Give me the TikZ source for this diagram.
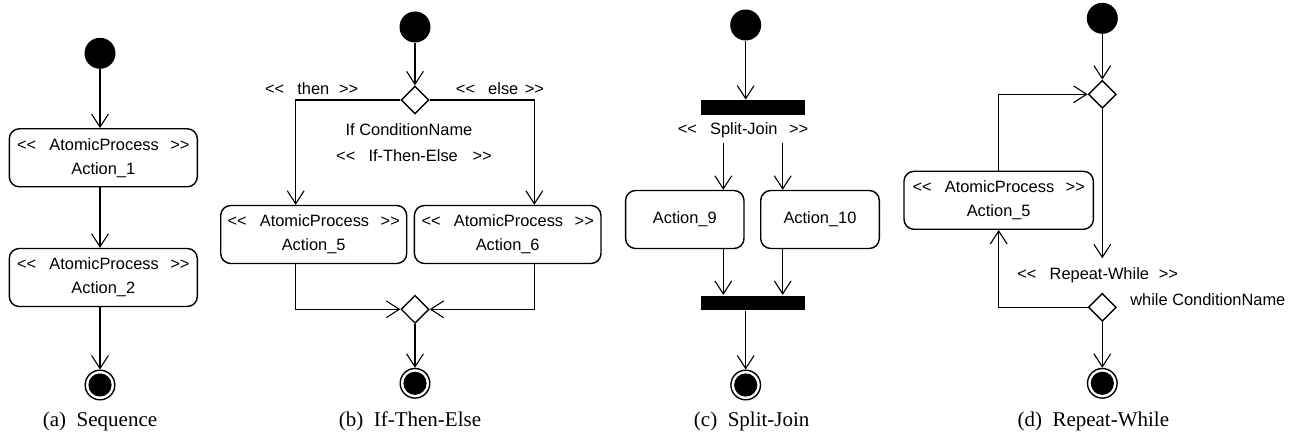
\documentclass[tikz,border=0pt]{standalone}
\usepackage{fontspec}
\setmainfont{Liberation Serif}
\setsansfont{Liberation Sans}
\usetikzlibrary{arrows.meta,shapes.geometric}
\newcommand{\stereo}[2][0.7em]{<\kern0pt<\hspace{0.8em}#2\hspace{#1}>\kern0pt>}

\begin{document}
\begin{tikzpicture}[x=0.5pt,y=-0.5pt,line width=0.7pt,
	>={Straight Barb[length=6.5pt,width=8.4pt,line width=0.55pt]},
	font=\sffamily\fontsize{8.2}{12}\selectfont,
	start/.style = {circle,fill,inner sep=0pt,minimum size=15.5pt},
	final/.style = {circle,draw,inner sep=0pt,minimum size=14.8pt,path picture={\fill (path picture bounding box.center) circle (5.8pt);}},
	action/.style = {draw,rounded corners=5pt,align=center,inner sep=0pt,minimum height=29pt},
	decision/.style = {diamond,draw,fill=white,inner sep=0pt,minimum size=14pt},
	bar/.style = {fill,inner sep=0pt,minimum width=52.2pt,minimum height=7.2pt},
	caption/.style = {font=\rmfamily\fontsize{10.5}{12}\selectfont}
	]
	%\draw [help lines] (0,0) grid (1296,443);
	\useasboundingbox (0,0) rectangle (1296,443);
	%SEQUENCE
	\node[start] (@starta) at (100,53.3) {};
	\node[action,minimum width=94pt] (@act1) at (103.3,157.8) {\stereo{AtomicProcess}\\Action\_1};
	\node[action,minimum width=94pt] (@act2) at (103.3,277.5) {\stereo{AtomicProcess}\\Action\_2};
	\node[final] (@enda) at (100,385) {};
	\node[caption] (@capa) at (100,421) {(a)\enspace Sequence};
	\draw[->] (@starta) -- (@starta |- @act1.north);
	\draw[->] (@starta |- @act1.south) -- (@starta |- @act2.north);
	\draw[->] (@starta |- @act2.south) -- (@enda);
	%IF-THEN-ELSE
	\node[start] (@startb) at (415,27) {};
	\node[decision] (@ifdec) at (415,100) {};
	\node (@then) at (311.7,88.3) {\stereo[0.6em]{then}};
	\node (@else) at (500,88.3) {\stereo[0.4em]{else}};
	\node (@cond) at (409,130) {If ConditionName};
	\node (@ite) at (414,155.7) {\stereo[0.9em]{If-Then-Else}};
	\node[action,minimum width=93pt] (@act5) at (313.7,234.5) {\stereo{AtomicProcess}\\Action\_5};
	\node[action,minimum width=93.3pt] (@act6) at (507.7,234.5) {\stereo{AtomicProcess}\\Action\_6};
	\node[decision] (@merge) at (415,309.3) {};
	\node[final] (@endb) at (415,383.3) {};
	\node[caption] (@capb) at (410,421) {(b)\enspace If-Then-Else};
	\draw[->] (@startb) -- (@ifdec);
	\draw[->] (@ifdec.west) -| ([xshift=-9pt]@act5.north);
	\draw[->] (@ifdec.east) -| ([xshift=13.3pt]@act6.north);
	\draw[->] ([xshift=-9pt]@act5.south) |- (@merge.west);
	\draw[->] ([xshift=13.3pt]@act6.south) |- (@merge.east);
	\draw[->] (@merge) -- (@endb);
	%SPLIT-JOIN
	\node[start] (@startc) at (745.7,25) {};
	\node[bar] (@split) at (752.9,107.5) {};
	\node (@sj) at (743,130) {\stereo[0.7em]{Split-Join}};
	\node[action,minimum width=59.2pt] (@act9) at (684.8,219.5) {Action\_9};
	\node[action,minimum width=59.3pt] (@act10) at (820,219.5) {Action\_10};
	\node[bar] (@join) at (752.9,302.8) {};
	\node[final] (@endc) at (745.7,385) {};
	\node[caption] (@capc) at (751.7,421) {(c)\enspace Split-Join};
	\coordinate (@f9) at (723.3,143);
	\coordinate (@f10) at (782.7,143);
	\draw[->] (@startc) -- (@startc |- @split.north);
	\draw[->] (@f9) -- (@f9 |- @act9.north);
	\draw[->] (@f10) -- (@f10 |- @act10.north);
	\draw[->] (@f9 |- @act9.south) -- (@f9 |- @join.north);
	\draw[->] (@f10 |- @act10.south) -- (@f10 |- @join.north);
	\draw[->] (@startc |- @join.south) -- (@endc);
	%REPEAT-WHILE
	\node[start] (@startd) at (1102.3,18.3) {};
	\node[decision] (@loopdec) at (1102.3,94.3) {};
	\node[action,minimum width=94.7pt] (@act5d) at (998.7,200.3) {\stereo{AtomicProcess}\\Action\_5};
	\coordinate (@rwend) at (1102.3,258.3);
	\node (@rw) at (1097.7,275) {\stereo[0.6em]{Repeat-While}};
	\node[decision] (@whiledec) at (1102.3,307.3) {};
	\node[anchor=west] (@while) at (1123,300) {while ConditionName};
	\node[final] (@endd) at (1102.3,383.3) {};
	\node[caption] (@capd) at (1093.3,421) {(d)\enspace Repeat-While};
	\draw[->] (@startd) -- (@loopdec);
	\draw[->] (@act5d.north) |- (@loopdec.west);
	\draw[->] (@loopdec) -- (@rwend);
	\draw[->] (@whiledec.west) -| (@act5d.south);
	\draw[->] (@whiledec) -- (@endd);
\end{tikzpicture}
\end{document}
